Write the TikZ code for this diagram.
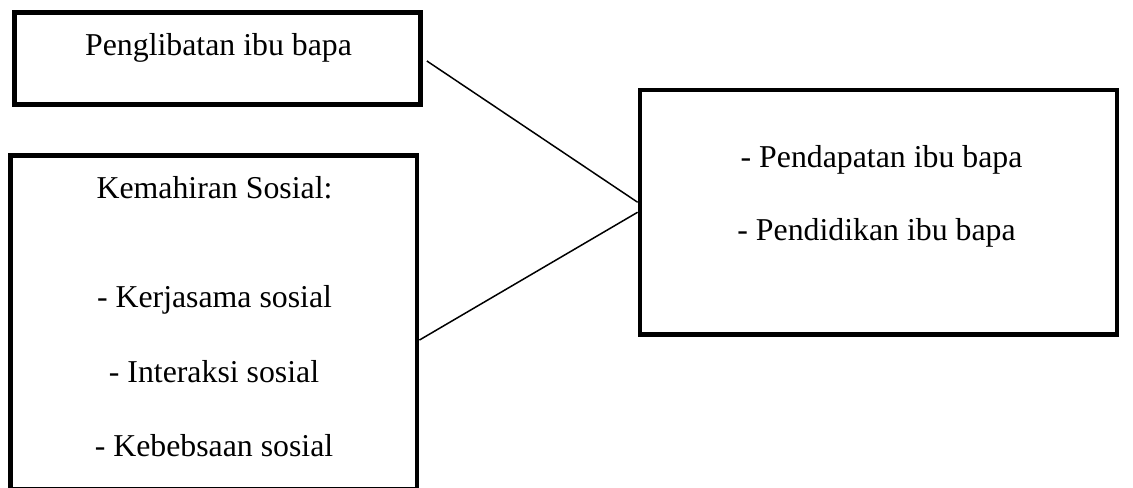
\documentclass[tikz,border=0pt]{standalone}
\usepackage{fontspec}
\setmainfont{Liberation Serif}
\usetikzlibrary{positioning}

\begin{document}
\begin{tikzpicture}[x=0.5pt,y=-0.5pt,
        kotak/.style={draw, line width=2.4pt, rectangle, inner sep=0pt},
        teks/.style={anchor=base, inner sep=0pt, font=\fontsize{15.9}{19}\selectfont},
        garis/.style={line width=0.75pt}]
        \useasboundingbox (0,0) rectangle (1133,487);
        \clip (0,0) rectangle (1133,487);

        % kotak
        \node [kotak, minimum width=203pt, minimum height=46.25pt] (penglibatan) at (217.5,58.5) {};
        \node [kotak, minimum width=203.25pt, minimum height=166.75pt] (kemahiran) at (213.75,322.25) {};
        \node [kotak, minimum width=238.5pt, minimum height=122.25pt] (faktor) at (878.5,212.25) {};

        % teks
        \node [teks] (t1) at (218.5,55) {Penglibatan ibu bapa};
        \node [teks] (t2) at (214.5,198) {Kemahiran Sosial:};
        \node [teks] (t3) at (214.5,307) {- Kerjasama sosial};
        \node [teks] (t4) at (214,382) {- Interaksi sosial};
        \node [teks] (t5) at (214,456.5) {- Kebebsaan sosial};
        \node [teks] (t6) at (881.5,167.5) {- Pendapatan ibu bapa};
        \node [teks] (t7) at (876.5,240.5) {- Pendidikan ibu bapa};

        \draw [garis] ([xshift=2pt,yshift=-1.25pt]penglibatan.east) -- ([yshift=5pt]faktor.west);
        \draw [garis] ([yshift=-8.9pt]kemahiran.east) -- (faktor.west);
    \end{tikzpicture}
\end{document}
